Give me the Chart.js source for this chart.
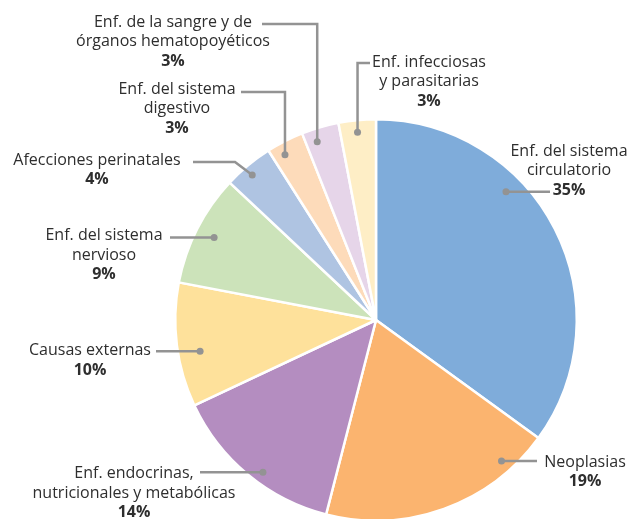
<!DOCTYPE html>
<html>
<head>
<meta charset="utf-8">
<script src="https://cdn.jsdelivr.net/npm/chart.js@4"></script>
<style>
  html, body { margin: 0; padding: 0; background: #fff; overflow: hidden; }
  #wrap { width: 631px; height: 540px; }
</style>
</head>
<body>
<div id="wrap"><canvas id="pieChart" width="631" height="540"></canvas></div>
<script>
// Data (clockwise from 12 o'clock)
const categories = [
  'Enf. del sistema circulatorio',
  'Neoplasias',
  'Enf. endocrinas, nutricionales y metabólicas',
  'Causas externas',
  'Enf. del sistema nervioso',
  'Afecciones perinatales',
  'Enf. del sistema digestivo',
  'Enf. de la sangre y de órganos hematopoyéticos',
  'Enf. infecciosas y parasitarias'
];
const values = [35, 19, 14, 10, 9, 4, 3, 3, 3];
const colors = ['#7FACDA', '#FBB46F', '#B48DC0', '#FEE19B', '#CCE3BA', '#AFC4E2', '#FDDBBA', '#E6D5E9', '#FEEEC6'];

// label text lines per slice (the bold percentage goes underneath)
const labelLines = [
  ['Enf. del sistema', 'circulatorio'],
  ['Neoplasias'],
  ['Enf. endocrinas,', 'nutricionales y metabólicas'],
  ['Causas externas'],
  ['Enf. del sistema', 'nervioso'],
  ['Afecciones perinatales'],
  ['Enf. del sistema', 'digestivo'],
  ['Enf. de la sangre y de', 'órganos hematopoyéticos'],
  ['Enf. infecciosas', 'y parasitarias']
];

// label layout: text centre x, first line y, where the dot sits in the slice (t along arc, rf of radius),
// and the leader path (elbow points after the dot)
const labelLayout = [
  { x: 569, y: 151, t: 0.36, rf: 0.91, path: 'h', to: 550 },
  { x: 585, y: 462, t: 0.18, rf: 0.94, path: 'h', to: 537 },
  { x: 134, y: 473.5, t: 0.44, rf: 0.945, path: 'h', to: 200 },
  { x: 90,  y: 350.5, t: 0.42, rf: 0.89, path: 'h', to: 156 },
  { x: 104, y: 235.5, t: 0.5,  rf: 0.905, path: 'h', to: 170 },
  { x: 97,  y: 160, t: 0.44, rf: 0.95, path: 'dh', elbow: [235, 162], to: 193 },
  { x: 177, y: 89,  t: 0.33, rf: 0.94, path: 'vh', top: 92, to: 241 },
  { x: 173, y: 22,  t: 0.31, rf: 0.935, path: 'vh', top: 24, to: 262 },
  { x: 429, y: 62,  t: 0.48, rf: 0.94, path: 'vh', top: 63, to: 370 }
];

const FONT = '"Open Sans", "Noto Sans", sans-serif';
const LINE_H = 19.6;

const labelPlugin = {
  id: 'leaderLabels',
  afterDraw(chart) {
    const ctx = chart.ctx;
    const arcs = chart.getDatasetMeta(0).data;
    ctx.save();
    arcs.forEach((arc, i) => {
      const p = arc.getProps(['x', 'y', 'startAngle', 'endAngle', 'outerRadius'], true);
      const L = labelLayout[i];
      const a = p.startAngle + L.t * (p.endAngle - p.startAngle);
      const r = p.outerRadius * L.rf;
      const dx = p.x + Math.cos(a) * r;
      const dy = p.y + Math.sin(a) * r;

      // leader line
      ctx.strokeStyle = '#939393';
      ctx.lineWidth = 2.5;
      ctx.beginPath();
      ctx.moveTo(dx, dy);
      if (L.path === 'h') {
        ctx.lineTo(L.to, dy);
      } else if (L.path === 'dh') {
        ctx.lineTo(L.elbow[0], L.elbow[1]);
        ctx.lineTo(L.to, L.elbow[1]);
      } else if (L.path === 'vh') {
        ctx.lineTo(dx, L.top);
        ctx.lineTo(L.to, L.top);
      }
      ctx.stroke();
      ctx.fillStyle = '#939393';
      ctx.beginPath();
      ctx.arc(dx, dy, 3.5, 0, Math.PI * 2);
      ctx.fill();

      // text
      ctx.fillStyle = '#2e2e2e';
      ctx.textAlign = 'center';
      ctx.textBaseline = 'middle';
      const lines = labelLines[i];
      ctx.font = '16px ' + FONT;
      lines.forEach((s, k) => ctx.fillText(s, L.x, L.y + k * LINE_H));
      ctx.font = 'bold 16px ' + FONT;
      ctx.fillText(values[i] + '%', L.x, L.y + lines.length * LINE_H);
    });
    ctx.restore();
  }
};

new Chart(document.getElementById('pieChart'), {
  type: 'pie',
  data: {
    labels: categories,
    datasets: [{
      data: values,
      backgroundColor: colors,
      borderColor: '#ffffff',
      borderWidth: 2.5
    }]
  },
  options: {
    responsive: false,
    animation: false,
    layout: { padding: { left: 174, right: 53, top: 118, bottom: 18 } },
    plugins: {
      legend: { display: false },
      tooltip: { enabled: false }
    }
  },
  plugins: [labelPlugin]
});
</script>
</body>
</html>
